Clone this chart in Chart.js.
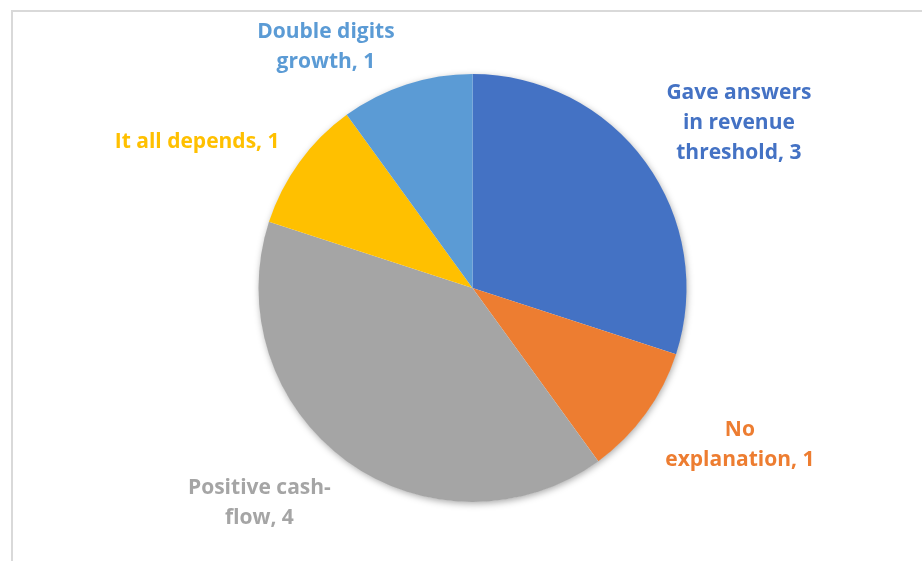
<!DOCTYPE html>
<html>
<head>
<meta charset="utf-8">
<script src="https://cdn.jsdelivr.net/npm/chart.js@4"></script>
<style>
    html, body { margin: 0; padding: 0; background: #fff; overflow: hidden; }
    #wrap { position: relative; width: 922px; height: 561px; }
    #frame {
        position: absolute; left: 11px; top: 10px;
        width: 940px; height: 600px;
        border: 2px solid #d9d9d9;
        box-sizing: border-box;
    }
    #chart { position: absolute; left: 0; top: 0; }
</style>
</head>
<body>
<div id="wrap">
    <div id="frame"></div>
    <canvas id="chart" width="922" height="561"></canvas>
</div>
<script>
// answer groups, wrapped the way they are printed next to the slices
const categoryLines = [
    ["Gave answers", "in revenue", "threshold"],
    ["No", "explanation"],
    ["Positive cash-", "flow"],
    ["It all depends"],
    ["Double digits", "growth"]
];
const categories = categoryLines.map(l => l.join(" ").replace("- ", "-"));
const counts = [3, 1, 4, 1, 1];
const colors = ["#4472C4", "#ED7D31", "#A5A5A5", "#FFC000", "#5B9BD5"];

// nudges from the plain mid-angle anchor, per slice
const labelNudge = [[24, 11], [25, -19], [-37, -27], [-33, 30], [-54, 44]];

const pieShadow = {
    id: "pieShadow",
    beforeDatasetsDraw(chart) {
        const arc = chart.getDatasetMeta(0).data[0];
        if (!arc) return;
        const ctx = chart.ctx;
        ctx.save();
        ctx.shadowColor = "rgba(0,0,0,0.35)";
        ctx.shadowBlur = 7;
        ctx.shadowOffsetX = 1;
        ctx.shadowOffsetY = 2;
        ctx.fillStyle = "#fff";
        ctx.beginPath();
        ctx.arc(arc.x, arc.y, arc.outerRadius - 0.5, 0, Math.PI * 2);
        ctx.fill();
        ctx.restore();
    }
};

const sliceLabels = {
    id: "sliceLabels",
    afterDatasetsDraw(chart) {
        const ctx = chart.ctx;
        const meta = chart.getDatasetMeta(0);
        ctx.save();
        ctx.font = "bold 21px 'Open Sans'";
        ctx.textAlign = "center";
        ctx.textBaseline = "middle";
        meta.data.forEach((arc, i) => {
            const mid = (arc.startAngle + arc.endAngle) / 2;
            const r = arc.outerRadius * 1.4;
            const x = arc.x + Math.cos(mid) * r + labelNudge[i][0];
            const y = arc.y + Math.sin(mid) * r + labelNudge[i][1];
            const lines = categoryLines[i].slice();
            lines[lines.length - 1] += ", " + counts[i];
            const lh = 30;
            const top = y - (lines.length - 1) * lh / 2;
            ctx.fillStyle = colors[i];
            lines.forEach((t, j) => ctx.fillText(t, x, top + j * lh));
        });
        ctx.restore();
    }
};

new Chart(document.getElementById("chart").getContext("2d"), {
    type: "pie",
    data: {
        labels: categories,
        datasets: [{
            data: counts,
            backgroundColor: colors,
            borderWidth: 0
        }]
    },
    options: {
        responsive: false,
        animation: false,
        layout: { padding: { top: 74, bottom: 59, left: 23, right: 0 } },
        plugins: {
            legend: { display: false },
            tooltip: { enabled: false }
        }
    },
    plugins: [pieShadow, sliceLabels]
});
</script>
</body>
</html>
